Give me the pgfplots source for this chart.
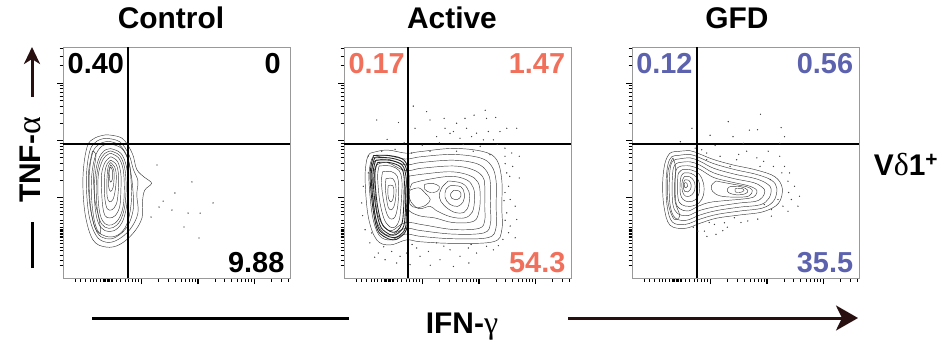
\documentclass[border=0pt]{standalone}
\usepackage{pgfplots}
\pgfplotsset{compat=1.18}
\usetikzlibrary{arrows.meta}
\usepackage{fontspec}
\setmainfont{Liberation Sans}
\newfontfamily\grk{Liberation Serif}
\definecolor{actcol}{RGB}{240,112,92}
\definecolor{gfdcol}{RGB}{92,98,174}
\definecolor{arrbrown}{RGB}{40,16,16}
\definecolor{cont}{RGB}{60,60,60}
\tikzset{qnum/.style={inner sep=0pt, font=\fontsize{29}{29}\selectfont\bfseries}}
\pgfplotsset{
  flow/.style={
    scale only axis, width=227bp, height=231bp,
    xmin=0,xmax=100,ymin=0,ymax=100,
    axis line style={draw=black!40, line width=0.6bp},
    tick pos=left, tick align=outside,
    xtick={34.7,59.5,84.3}, ytick={34.7,59.5,84.3},
    minor xtick={5.3,7.5,9.7,11.9,13.3,14.8,16.3,17.6,18.2,18.8,19.4,20,20.6,21.2,21.8,23.6,25.1,27.3,28.8,30.4,31.9,33.3,42.2,46.5,49.6,52,54,55.7,57.1,58.4,67,71.3,74.4,76.8,78.8,80.5,81.9,83.2,91.8,96.1,99.2},
    minor ytick={5.3,7.5,9.7,11.9,13.3,14.8,16.3,17.6,18.2,18.8,19.4,20,20.6,21.2,21.8,23.6,25.1,27.3,28.8,30.4,31.9,33.3,42.2,46.5,49.6,52,54,55.7,57.1,58.4,67,71.3,74.4,76.8,78.8,80.5,81.9,83.2,91.8,96.1,99.2},
    xticklabels={,,}, yticklabels={,,},
    major tick length=6bp, minor tick length=3.5bp,
    major tick style={black, line width=1.2bp},
    minor tick style={black, line width=0.9bp},
  },
  cnt/.style={cont, line width=0.45bp, smooth, tension=0.6, mark=none},
  cntd/.style={black!85, line width=0.85bp, smooth, tension=0.6, mark=none},
  dots/.style={only marks, mark=*, mark size=0.4bp, black!75},
  gate/.style={black, line width=1.2bp, mark=none},
}
\begin{document}
\begin{tikzpicture}
\path[use as bounding box] (0bp,0bp) rectangle (945bp,-341bp);
% ---------------- Control ----------------
\begin{axis}[flow, at={(63bp,-47bp)}, anchor=north west]
\addplot[cnt] coordinates {(19,62) (26,60.5) (30.5,54) (32.5,47) (36,43.5) (39,41) (36,38) (35,33) (34.8,26) (31,19.5) (25,14.5) (19,13.4) (13.2,16.5) (9.7,28) (8.8,43.7) (10.6,56.7) (14,60.6) (19,62)};
\addplot[cnt] coordinates {(19,60.5) (25,59) (29,53.5) (31,47) (33,42) (32.5,36) (33,28) (29.5,21) (24,16.5) (19,15.5) (14.5,18.5) (11.3,28) (10.3,43) (11.8,55) (15,59.3) (19,60.5)};
\addplot[cnt] coordinates {(20,59.2) (25,57.5) (28.5,52) (30,45) (30.8,38) (31,30) (28.5,22.5) (23.5,17.8) (19,17) (15,19.8) (12.4,29) (11.5,43) (13,54) (16,58) (20,59.2)};
\addplot[cnt] coordinates {(21,58) (26,56) (29,50) (30,42) (30,32) (28,23) (24,18.5) (19,18) (15,21) (13,30) (12.5,42) (14,52) (17,57) (21,58)};
\addplot[cnt] coordinates {(21,56) (25.5,54) (28,48) (28.5,40) (28,31) (26,24) (22.5,20.5) (18.5,20.5) (15.5,24) (14,32) (14,43) (15.5,51) (18,55) (21,56)};
\addplot[cnt] coordinates {(21,55) (25,53) (27.2,47.5) (27.8,39.5) (27.2,31) (25.2,24.8) (22,21.8) (18.5,22) (16,25.5) (14.8,33) (14.8,43.5) (16.2,50.5) (18.5,54) (21,55)};
\addplot[cnt] coordinates {(21,54) (24.5,52) (26.5,47) (27,39) (26.5,31) (24.5,25.5) (21.5,23) (18.5,23.5) (16.5,27) (15.5,34) (15.5,44) (17,50) (19,53) (21,54)};
\addplot[cnt] coordinates {(21,52.5) (24,50.5) (25.5,45) (25.5,38) (25,31) (23,27) (20.5,26) (18.5,27) (17.5,31) (17,38) (17,45) (18.5,50) (21,52.5)};
\addplot[cnt] coordinates {(21,51) (23.5,49) (24.5,44) (24.3,37) (23.5,32) (21.5,29.5) (19.5,30) (18.5,34) (18.2,40) (18.5,46) (19.5,49.5) (21,51)};
\addplot[cnt] coordinates {(21,50) (22.8,48) (23.5,44) (23,38) (22,34) (20.5,33) (19.5,35) (19.3,40) (19.5,45) (20,48.5) (21,50)};
\addplot[cnt] coordinates {(21,49) (22.3,47) (22.5,43) (22,39) (21,37.5) (20.2,39) (20,43) (20.3,47) (21,49)};
\addplot[cnt] coordinates {(21,48) (21.8,46.5) (21.8,43) (21,41.5) (20.5,43) (20.4,46.5) (21,48)};
\addplot[cnt] coordinates {(13,55) (11.2,45) (11.8,32) (14,22) (16.5,19.5) (15.8,26) (14,34) (13.5,45) (14.5,53) (13,55)};
\addplot[dots] coordinates {(41.4,48.9) (56.8,41.6) (49.3,36.8) (44.1,33.3) (42.3,30.7) (48,29.4) (55.1,28.1) (60.4,28.1) (66.1,32.5) (38.8,26.4) (53.3,22.1) (59.9,17.3)};
\addplot[gate] coordinates {(28.6,0) (28.6,100)};
\addplot[gate] coordinates {(0,58) (100,58)};
\node[qnum, anchor=north west] at (axis cs:2.0,97.3) {0.40};
\node[qnum, anchor=north east] at (axis cs:96,97.3) {0};
\node[qnum, anchor=south east] at (axis cs:97.6,2.3) {9.88};
\end{axis}
% ---------------- Active ----------------
\begin{axis}[flow, at={(344bp,-47bp)}, anchor=north west]
\addplot[cnt] coordinates {(11.5,54) (18.8,55.4) (27.6,54) (33.5,54.7) (48.2,56.1) (61.4,54.7) (67.3,51.1) (69.5,42.4) (69.5,30.9) (69.5,20.8) (65.8,15.7) (48.2,15) (33.5,15.7) (27.6,16.5) (20.3,14.3) (14.4,16.5) (10.7,26.5) (9.3,42.4) (10,51.1) (11.5,54)};
\addplot[cnt] coordinates {(12.5,52) (19,53) (27,51.5) (34,52.5) (48,53.5) (60,52) (65,48.5) (67,42) (67,31) (67,22) (63.5,17.5) (48,17) (34,18) (27,19) (20.5,16.5) (15.5,18.5) (12.5,27) (11,42) (11.5,49) (12.5,52)};
\addplot[cnt] coordinates {(13.5,50.5) (19,51.5) (27,49) (34,50) (48,51) (58.5,49.5) (63,46) (64.5,41) (64.5,31) (64.5,23.5) (61.5,19.5) (48,19) (34,20.5) (27,21.5) (20.5,18.5) (16.5,20.5) (13.5,28) (12.5,42) (12.5,48) (13.5,50.5)};
\addplot[cnt] coordinates {(14.5,49) (19,50) (27,46.5) (34,47.5) (48,48.5) (56.5,47) (61,44) (62,40) (62,31) (62,25) (59.5,21.5) (48,21) (35,23) (27,24) (21,20.5) (17.5,22.5) (14.5,29) (13.5,42) (13.5,47) (14.5,49)};
\addplot[cnt] coordinates {(28,44) (35,45) (47,46) (55,44.5) (59,41.5) (60,36) (59.5,29) (57,24.5) (48,24) (40,26) (33,27) (28,30) (27,37) (28,44)};
\addplot[cnt] coordinates {(30,41) (36,42.5) (47,44) (54,42.5) (57,39) (57.5,34) (56.5,28.5) (53,26) (47,26.5) (41,29) (38,31) (33,30) (29.5,33) (28.5,37) (30,41)};
\addplot[cnt] coordinates {(46,42) (52,41) (55,37.5) (55,32) (53,28.5) (48.5,28.5) (44,31.5) (42,35) (43,39) (46,42)};
\addplot[cnt] coordinates {(47,40) (51.5,39.5) (53,36.5) (52.5,33) (50,31) (46.5,32) (44.5,35) (45,38.5) (47,40)};
\addplot[cnt] coordinates {(48.5,38) (51,37.5) (51.5,35.5) (50,34) (47.5,34.5) (47,36.5) (48.5,38)};
\addplot[cnt] coordinates {(35.5,40.5) (39,41) (42,39.5) (41,37.5) (38,37) (35.5,38.5) (35.5,40.5)};
\addplot[cnt] coordinates {(29,38) (33,39) (36,36.5) (38,34) (36,31.5) (32,30.5) (29,32) (29,38)};
\addplot[cntd] coordinates {(13,53) (20,53) (26.5,51) (28.5,45) (28.5,38) (28,28) (27.5,21) (24.5,17.5) (21.5,16.5) (17.5,18) (14.5,21.5) (12.5,32) (11.5,45) (13,53)};
\addplot[cntd] coordinates {(13.5,52) (20,52) (26,50) (28,44.5) (28,38) (27.5,28) (27,21.5) (24.3,18.3) (21.5,17.5) (18,18.8) (15,22) (13,32) (12,45) (13.5,52)};
\addplot[cntd] coordinates {(14,51) (20,51) (25.5,49) (27.3,44) (27.3,38) (27,28.5) (26.3,22.5) (24,19.5) (21.5,18.5) (18.5,19.8) (15.8,23) (13.7,32.5) (12.8,45) (14,51)};
\addplot[cntd] coordinates {(14.8,50) (20,50) (25,48) (26.5,43.5) (26.5,38) (26.2,29) (25.5,23.5) (23.5,20.5) (21.5,19.8) (19,21) (16.5,24) (14.5,33) (13.6,45) (14.8,50)};
\addplot[cnt] coordinates {(15.5,48.5) (20.5,48.5) (24.3,46.5) (25.5,42.5) (25.5,37.5) (25,30) (24.3,25) (22.8,22.3) (21,21.8) (19.3,23) (17.5,26) (15.7,33.5) (14.8,44) (15.5,48.5)};
\addplot[cnt] coordinates {(17,46) (21,46) (23.5,44) (24,40) (24,35) (23.5,30) (22.5,26.5) (21,25.5) (19.5,26.5) (18.2,30) (17,36) (16.5,42) (17,46)};
\addplot[cnt] coordinates {(18.5,43) (21.5,43) (22.8,40) (22.8,35) (22,31) (20.8,29.5) (19.5,30.5) (18.8,34) (18.2,39) (18.5,43)};
\addplot[cnt] coordinates {(19.5,40) (21.5,40) (22,37) (21.5,34) (20.5,33) (19.6,34.5) (19.3,37.5) (19.5,40)};
\addplot[dots] coordinates {(14.4,68.4) (24,67.3) (30.5,74.4) (36.4,72) (37.9,68.4) (44.1,69.1) (49.6,67) (53.3,69.1) (57.3,70.5) (62.2,72.6) (62.8,69.1) (66.8,69.5) (76.1,64.8) (44.5,64.8) (48.2,63.4) (54,64.8) (58.4,62.7) (63.6,63.4) (68.7,63.4) (71.7,64.8) (31.3,64.8) (40.8,61.2) (46.7,62.6) (51.1,60.5) (56.2,61.2) (61.4,59.8) (65.8,59.8) (70.9,56.2) (73.9,54.1) (77.2,52.7) (22.5,55.7) (10.7,52.8) (16.6,54.9) (29.8,54.1) (37.9,54.9) (49.6,54.9) (56.9,54.9) (64.3,53.4) (70.9,52.7) (71.7,45.5) (72.5,39.7) (73.2,34) (75.4,31.1) (71.7,28.2) (73.2,22.5) (76.1,25.3) (70.9,37) (77.2,43.3) (74.3,48.3) (72.5,19.6) (70,16.7) (75.4,17.4) (11.4,15.2) (15.1,10.8) (21,11.5) (24.7,9.4) (18.1,7.9) (27.6,10.8) (32,13) (33.5,9.4) (37.2,11.5) (42.3,7.9) (46.7,12.2) (51.1,9.4) (54.8,13) (58.4,10.8) (62.8,13.7) (65.8,12.2) (12.2,19.5) (9.3,20.9) (7.8,32.5) (8.5,39.7) (10.7,45.5) (48.2,5) (29.1,5.8) (23.2,6.5) (40.8,15.2) (34.5,57.5) (42,58.5) (52.5,57.8) (60,57) (67.5,57.8) (71,49.5) (73,44) (70.5,33.5) (71,25) (68,14) (56,14.5) (44,13.8) (30,14.5) (17.5,13.5) (13.5,9) (38,5.5) (55,6.5) (8.2,27) (26.5,58.5) (19,60)};
\addplot[gate] coordinates {(28.2,0) (28.2,100)};
\addplot[gate] coordinates {(0,58) (100,58)};
\node[qnum, anchor=north west, text=actcol] at (axis cs:1.9,97.3) {0.17};
\node[qnum, anchor=north east, text=actcol] at (axis cs:97.5,97.3) {1.47};
\node[qnum, anchor=south east, text=actcol] at (axis cs:97.6,2.3) {54.3};
\end{axis}
% ---------------- GFD ----------------
\begin{axis}[flow, at={(632bp,-47bp)}, anchor=north west]
\addplot[cnt] coordinates {(19.7,54.7) (25.6,55.1) (30,53.6) (35.9,51.3) (44.7,48.9) (55,46.7) (63,43.8) (66.2,38.8) (64.5,32.3) (57.8,28.7) (47.6,27.3) (37.3,25.9) (30,23.7) (23.4,21.5) (16.7,22.9) (14.1,30.9) (13.5,41) (14.5,49.6) (16.7,54) (19.7,54.7)};
\addplot[cnt] coordinates {(20,53) (25.6,53.5) (30,52) (36,49.5) (45,47) (55,44.8) (61.5,42.3) (63.8,38.8) (62.5,33.5) (57.5,30.3) (47.6,29) (37.3,27.5) (30,25.5) (23.5,23.2) (17.8,24.2) (15.5,31) (15,41) (15.8,49) (17.5,52.5) (20,53)};
\addplot[cnt] coordinates {(20.5,51.5) (25.6,52) (30,50.5) (36,47.5) (45,45) (54.5,43) (59.5,40.8) (61.3,38.5) (60.3,34.5) (56.5,31.7) (47.6,30.7) (37.3,29.2) (30,27.3) (24,25) (19,26) (16.8,31.5) (16.4,41) (17,48.5) (18.5,51) (20.5,51.5)};
\addplot[cnt] coordinates {(21,50) (25.6,50.3) (30,48.8) (36,45.5) (45,43) (53.5,41.3) (57.5,39.2) (58.5,37.5) (57.5,35) (54.5,33.2) (47.6,32.5) (37.5,31) (30,29.3) (24.5,27) (20,28) (18,32) (17.7,41) (18.2,47.5) (19.5,49.5) (21,50)};
\addplot[cnt] coordinates {(22,48.5) (25.6,48.5) (30,47) (36,43.5) (44,41.5) (51,40) (54.5,38.5) (55,37) (53.5,35) (49,34.2) (41,33.5) (34,32.7) (29,31) (24.8,29) (21,30) (19.3,33) (19,41) (19.4,46.5) (20.5,48) (22,48.5)};
\addplot[cnt] coordinates {(22.5,47) (26,46.8) (29.5,45) (31.5,41) (31.5,36) (29.5,32.5) (25.5,31) (21.8,31.8) (20.3,34.5) (20.1,41) (20.5,45.5) (22.5,47)};
\addplot[cnt] coordinates {(23,45.5) (26,45.3) (28.5,43.5) (29.8,40.5) (29.5,36.5) (27.8,33.8) (25,33) (22.5,34) (21.3,36.5) (21.2,41) (21.7,44.3) (23,45.5)};
\addplot[cnt] coordinates {(23.2,44) (25.5,43.8) (27.3,42) (27.8,39.5) (27.2,37) (25.5,35.5) (23.5,35.5) (22.2,37.5) (22,41) (22.5,43) (23.2,44)};
\addplot[cnt] coordinates {(23.3,42.5) (25,42.3) (26,40.5) (25.8,38.5) (24.5,37.3) (23.2,37.5) (22.6,39.5) (22.8,41.5) (23.3,42.5)};
\addplot[cnt] coordinates {(23.3,41.3) (24.2,41) (24.5,39.8) (23.8,39) (23.1,39.4) (23,40.5) (23.3,41.3)};
\addplot[cnt] coordinates {(18,52) (16,47) (15.6,40) (16,32) (18.5,25.5) (21,27) (19,33) (18.8,41) (19.2,48) (18,52)};
\addplot[cnt] coordinates {(37,42) (45,40.5) (50.5,39.5) (53,38) (51.5,35.5) (46,35) (39,35.5) (35.5,37.5) (35,40) (37,42)};
\addplot[cnt] coordinates {(43,39.5) (48,39.5) (51,38) (50,36.5) (46,36) (42.5,37) (42,38.5) (43,39.5)};
\addplot[cnt] coordinates {(45.5,38.7) (48.5,38.7) (49.3,37.8) (47.5,37) (45.5,37.3) (45.5,38.7)};
\addplot[dots] coordinates {(42.4,67.7) (56.6,70.9) (51.7,64) (55.3,64.2) (65.7,65.1) (44.5,61.2) (67.2,61.2) (34.4,61.8) (26.4,64.8) (21.3,59) (49,58.3) (65.1,58.3) (65.1,52.7) (60,54.9) (67.2,48.3) (69.4,45.5) (68.7,41.9) (71.6,39.7) (73.8,35.4) (70.2,34) (66.5,31.1) (61.4,29.6) (68.7,28.9) (73.1,31.1) (55.4,25.5) (51,24.7) (45.1,26.1) (40.7,23.9) (36.3,23.2) (31.9,20.3) (37,18.9) (29,20.3) (61.4,26.8) (64.3,34) (32.9,54.1) (38.8,52.7) (46.1,51.2) (55,52) (32.9,51.2) (36.6,57.4) (27.8,56.2) (30.7,55.5) (43.2,48.3) (50.5,54.9) (56.4,48.3) (62.3,48.3) (60.9,42.6) (58.3,31.8) (34,24) (42,22) (48,24) (27,22) (33,18) (40,20.5) (69,37) (66,45.5) (58,50.5) (47,53.5)};
\addplot[gate] coordinates {(28.6,0) (28.6,100)};
\addplot[gate] coordinates {(0,58) (100,58)};
\node[qnum, anchor=north west, text=gfdcol] at (axis cs:1.8,97.3) {0.12};
\node[qnum, anchor=north east, text=gfdcol] at (axis cs:97.5,97.3) {0.56};
\node[qnum, anchor=south east, text=gfdcol] at (axis cs:97.5,2.3) {35.5};
\end{axis}
% ---------------- titles and labels ----------------
\begin{scope}[every node/.style={font=\fontsize{30}{30}\selectfont\bfseries, inner sep=0pt}]
\node[anchor=base] at (171bp,-28bp) {Control};
\node[anchor=base] at (452bp,-28bp) {Active};
\node[anchor=base] at (737bp,-28bp) {GFD};
\node[anchor=base] at (462bp,-333bp) {IFN-{\grk\mdseries\fontsize{32}{32}\selectfont γ}};
\node[anchor=base] at (906bp,-175bp) {V{\grk\mdseries\fontsize{32}{32}\selectfont δ}1\textsuperscript{+}};
\node[anchor=base, rotate=90] at (40bp,-160bp) {TNF-{\grk\mdseries\fontsize{34}{34}\selectfont α}};
\end{scope}
\draw[black, line width=3bp] (32bp,-268bp) -- (32bp,-222bp);
\draw[arrbrown, line width=3bp, -{Stealth[length=17bp,width=16bp,inset=5bp]}] (32bp,-97bp) -- (32bp,-47bp);
\draw[black, line width=3bp] (92bp,-318bp) -- (349bp,-318bp);
\draw[arrbrown, line width=3bp, -{Stealth[length=22bp,width=25bp,inset=6bp]}] (568bp,-318bp) -- (858bp,-318bp);
\end{tikzpicture}
\end{document}
